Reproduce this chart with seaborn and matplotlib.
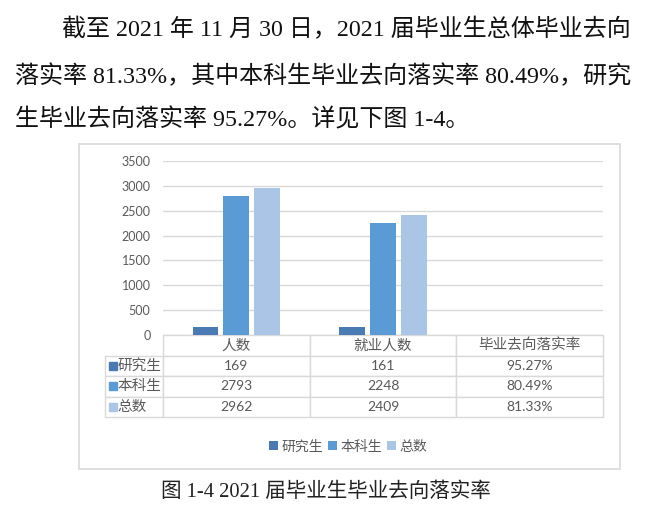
import matplotlib
matplotlib.use("Agg")
import matplotlib.pyplot as plt
import pandas as pd
import seaborn as sns
from matplotlib.patches import Rectangle

# ── data ──────────────────────────────────────────────────────────────────────
categories = ["人数", "就业人数", "毕业去向落实率"]
series = ["研究生", "本科生", "总数"]
grad = [169, 161, 0.9527]
undergrad = [2793, 2248, 0.8049]
total = [2962, 2409, 0.8133]
yticks = [0, 500, 1000, 1500, 2000, 2500, 3000, 3500]
colors = ["#4a7ab4", "#5b9bd5", "#abc5e6"]

para_lines = [
    "截至 2021 年 11 月 30 日，2021 届毕业生总体毕业去向",
    "落实率 81.33%，其中本科生毕业去向落实率 80.49%，研究",
    "生毕业去向落实率 95.27%。详见下图 1-4。",
]
caption = "图 1-4 2021 届毕业生毕业去向落实率"

values = {"研究生": grad, "本科生": undergrad, "总数": total}
df = pd.DataFrame([(c, s, values[s][i]) for s in series
                   for i, c in enumerate(categories)],
                  columns=["指标", "类别", "值"])


def fmt(v, col):
    return f"{v * 100:.2f}%" if col == 2 else f"{v:d}"


cell_text = [[fmt(v, i) for i, v in enumerate(values[s])] for s in series]

# ── style ─────────────────────────────────────────────────────────────────────
sns.set_theme(style="white")
plt.rcParams["font.family"] = ["Lato", "Noto Sans CJK SC"]
GREY = "#595959"
LINE = "#d9d9d9"
W, H = 645, 512

fig = plt.figure(figsize=(W / 100, H / 100), dpi=100)
fig.patch.set_facecolor("white")


def fx(px):
    return px / W


def fy(py):
    return 1 - py / H


# paragraph text
serif = ["Liberation Serif", "Noto Sans CJK SC"]
for (x, y), line in zip([(62, 30), (15, 76), (15, 120)], para_lines):
    fig.text(fx(x), fy(y), line, family=serif, fontsize=17.3, color="#111111",
             ha="left", va="center")

# chart frame
fig.patches.append(Rectangle((fx(79), fy(469)), fx(620) - fx(79),
                             fy(144) - fy(469), transform=fig.transFigure,
                             fill=False, edgecolor=LINE, lw=1.2))

# plot area
ax_l, ax_r, ax_t, ax_b = 163, 603, 161, 335
ax = fig.add_axes([fx(ax_l), fy(ax_b), fx(ax_r - ax_l), fy(ax_t) - fy(ax_b)])
sns.barplot(data=df, x="指标", y="值", hue="类别", palette=colors,
            saturation=1, width=0.63, gap=0.16, linewidth=0, ax=ax)
ax.set_xlim(-0.5, len(categories) - 0.5)
ax.set_ylim(0, 3500)
ax.set_yticks(yticks)
ax.grid(axis="y", color=LINE, lw=1)
ax.set_axisbelow(True)
for sp in ax.spines.values():
    sp.set_visible(False)
ax.set_xticklabels([])
ax.set_xlabel("")
ax.set_ylabel("")
ax.tick_params(axis="x", length=0)
ax.tick_params(axis="y", length=0, pad=9, labelsize=9, labelcolor=GREY)

handles, labels = ax.get_legend_handles_labels()
ax.get_legend().remove()

# data table under the plot (bbox covers the value columns only)
ax_w = ax_r - ax_l
ax_h = ax_b - ax_t
tbl_l, tbl_b = 105, 417
row_lbl_w = (ax_l - tbl_l) / ax_w
col_w = 1 / len(categories)
tbl = ax.table(cellText=cell_text, rowLabels=series, colLabels=categories,
               colWidths=[col_w] * 3, cellLoc="center", rowLoc="left",
               bbox=[0, -(tbl_b - ax_b) / ax_h, 1, (tbl_b - ax_b) / ax_h])
tbl._autoColumns = []  # keep the fixed row-label width
tbl.auto_set_font_size(False)
for (r, c), cell in tbl.get_celld().items():
    cell.set_edgecolor(LINE)
    cell.set_linewidth(1)
    cell.get_text().set_color(GREY)
    cell.get_text().set_fontsize(10)
    if c == -1:
        cell.set_width(row_lbl_w)
        cell.PAD = 0.22
        cell.get_text().set_fontsize(10.5)
    if r == 0:
        cell.get_text().set_fontsize(10.5)

# colour keys in the row-label column
n_rows = len(series) + 1
row_h = (tbl_b - ax_b) / n_rows
for i, col in enumerate(colors):
    yc = ax_b + row_h * (i + 1.5)
    ax.plot([(tbl_l + 8 - ax_l) / ax_w], [-(yc - ax_b) / ax_h], marker="s",
            ms=6, color=col, transform=ax.transAxes, clip_on=False, ls="none")

# legend
fig.legend(handles, labels, loc="center", bbox_to_anchor=(fx(348), fy(446)),
           ncol=3, frameon=False, fontsize=10, labelcolor=GREY,
           handlelength=0.6, handleheight=0.6, handletextpad=0.25,
           columnspacing=0.4)

# caption
fig.text(fx(326), fy(492), caption, family=serif, fontsize=14.8,
         color="#222222", ha="center", va="center")

fig.savefig("out.png", dpi=100)
